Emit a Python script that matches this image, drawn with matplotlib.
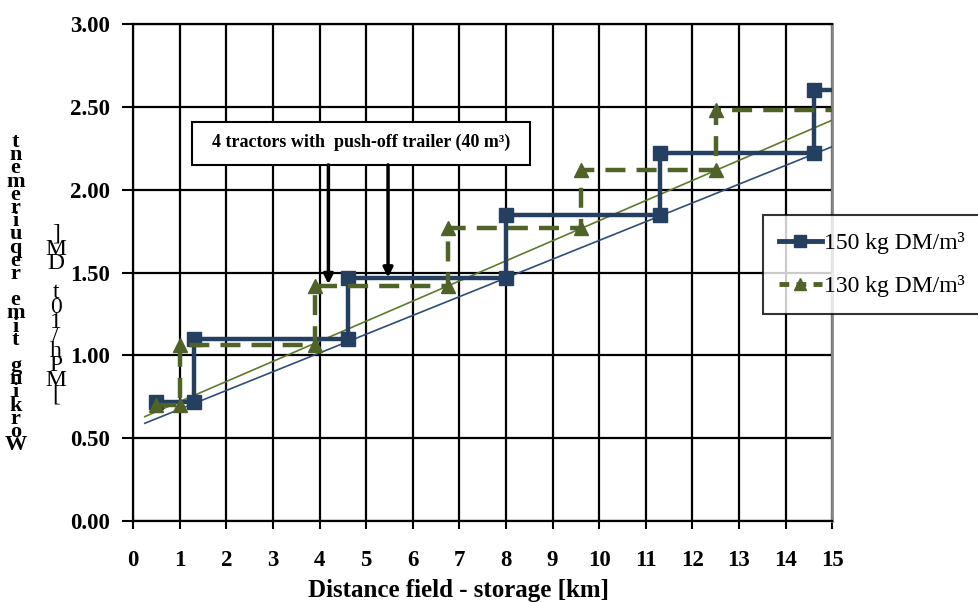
import matplotlib.pyplot as plt
from matplotlib.lines import Line2D
from matplotlib.patches import Rectangle

# step series (corner points)
dist_150 = [0.5, 1.3, 1.3, 4.6, 4.6, 8.0, 8.0, 11.3, 11.3, 14.6, 14.6, 15.0]
work_150 = [0.72, 0.72, 1.10, 1.10, 1.47, 1.47, 1.85, 1.85, 2.22, 2.22, 2.60, 2.60]

dist_130 = [0.5, 1.0, 1.0, 3.9, 3.9, 6.75, 6.75, 9.6, 9.6, 12.5, 12.5, 15.0]
work_130 = [0.70, 0.70, 1.06, 1.06, 1.42, 1.42, 1.77, 1.77, 2.12, 2.12, 2.48, 2.48]

# linear trend lines (end points)
trend_x = [0.25, 15.0]
trend_150 = [0.59, 2.26]
trend_130 = [0.63, 2.42]

x_ticks = list(range(0, 16))
y_ticks = [0.0, 0.5, 1.0, 1.5, 2.0, 2.5, 3.0]

blue = '#243f60'
green = '#4f6228'
serif = 'Liberation Serif'

fig = plt.figure(figsize=(9.79, 6.03), dpi=100)
ax = fig.add_axes([0.136, 0.136, 0.714, 0.824])

ax.plot(trend_x, trend_150, color='#2e4d7b', lw=1.2, zorder=3)
ax.plot(trend_x, trend_130, color='#5f7a2a', lw=1.2, zorder=3)

ax.plot(dist_150, work_150, color=blue, lw=3.2, marker='s', ms=10,
        markevery=list(range(len(dist_150) - 1)), zorder=4)
ax.plot(dist_130, work_130, color=green, lw=3.2, ls=(0, (4.5, 2.5)), marker='^',
        ms=10, markevery=list(range(len(dist_130) - 1)), zorder=5)

ax.set_xlim(0, 15)
ax.set_ylim(0, 3)
ax.set_xticks(x_ticks)
ax.set_yticks(y_ticks)
ax.set_yticklabels(['%.2f' % v for v in y_ticks])
ax.grid(True, color='black', lw=1.6)
ax.set_axisbelow(True)
ax.tick_params(direction='out', width=1.5, labelsize=16.5)
ax.tick_params(axis='x', length=6, pad=15)
ax.tick_params(axis='y', length=8, pad=9)
for lab in ax.get_xticklabels() + ax.get_yticklabels():
    lab.set_fontfamily(serif)
    lab.set_fontweight('bold')
for s in ['left', 'bottom', 'top']:
    ax.spines[s].set_color('black')
    ax.spines[s].set_linewidth(1.6)
ax.spines['right'].set_color('#888888')
ax.spines['right'].set_linewidth(2)

# annotation box with two arrows
ax.add_patch(Rectangle((1.27, 2.15), 7.25, 0.26, fc='white', ec='black', lw=1.5, zorder=6))
ax.text(4.9, 2.285, '4 tractors with  push-off trailer (40 m³)', ha='center', va='center',
        fontsize=13, fontweight='bold', family=serif, zorder=7)
for ax_x, y_end in [(4.19, 1.43), (5.47, 1.47)]:
    ax.annotate('', xy=(ax_x, y_end), xytext=(ax_x, 2.15),
                arrowprops=dict(arrowstyle='-|>', color='black', lw=2.5,
                                mutation_scale=14, shrinkA=0, shrinkB=0), zorder=6)

# labels
fig.text(0.468, 0.002, 'Distance field - storage [km]', ha='center', va='bottom',
         fontsize=18, fontweight='bold', family=serif)
col1 = '\n'.join(reversed('Working time requirement'))
col2 = '\n'.join(reversed('[MPh/10t DM]'))
fig.text(0.016, 0.513, col1, ha='center', va='center', fontsize=16, fontweight='bold',
         family=serif, linespacing=0.545)
fig.text(0.057, 0.478, col2, ha='center', va='center', fontsize=17, family=serif,
         linespacing=0.6)

handles = [Line2D([], [], color=blue, lw=3.5, marker='s', ms=9),
           Line2D([], [], color=green, lw=3.5, ls=(0, (2, 1.5)), marker='^', ms=9)]
leg = fig.legend(handles, ['150 kg DM/m³', '130 kg DM/m³'], loc='upper left',
                 bbox_to_anchor=(0.779, 0.643), prop={'family': serif, 'size': 17},
                 frameon=True, fancybox=False, edgecolor='black', handlelength=1.8,
                 handletextpad=0.1, borderpad=0.7, labelspacing=0.9, borderaxespad=0)
leg.get_frame().set_linewidth(1.5)

fig.savefig('out.png', dpi=100)
